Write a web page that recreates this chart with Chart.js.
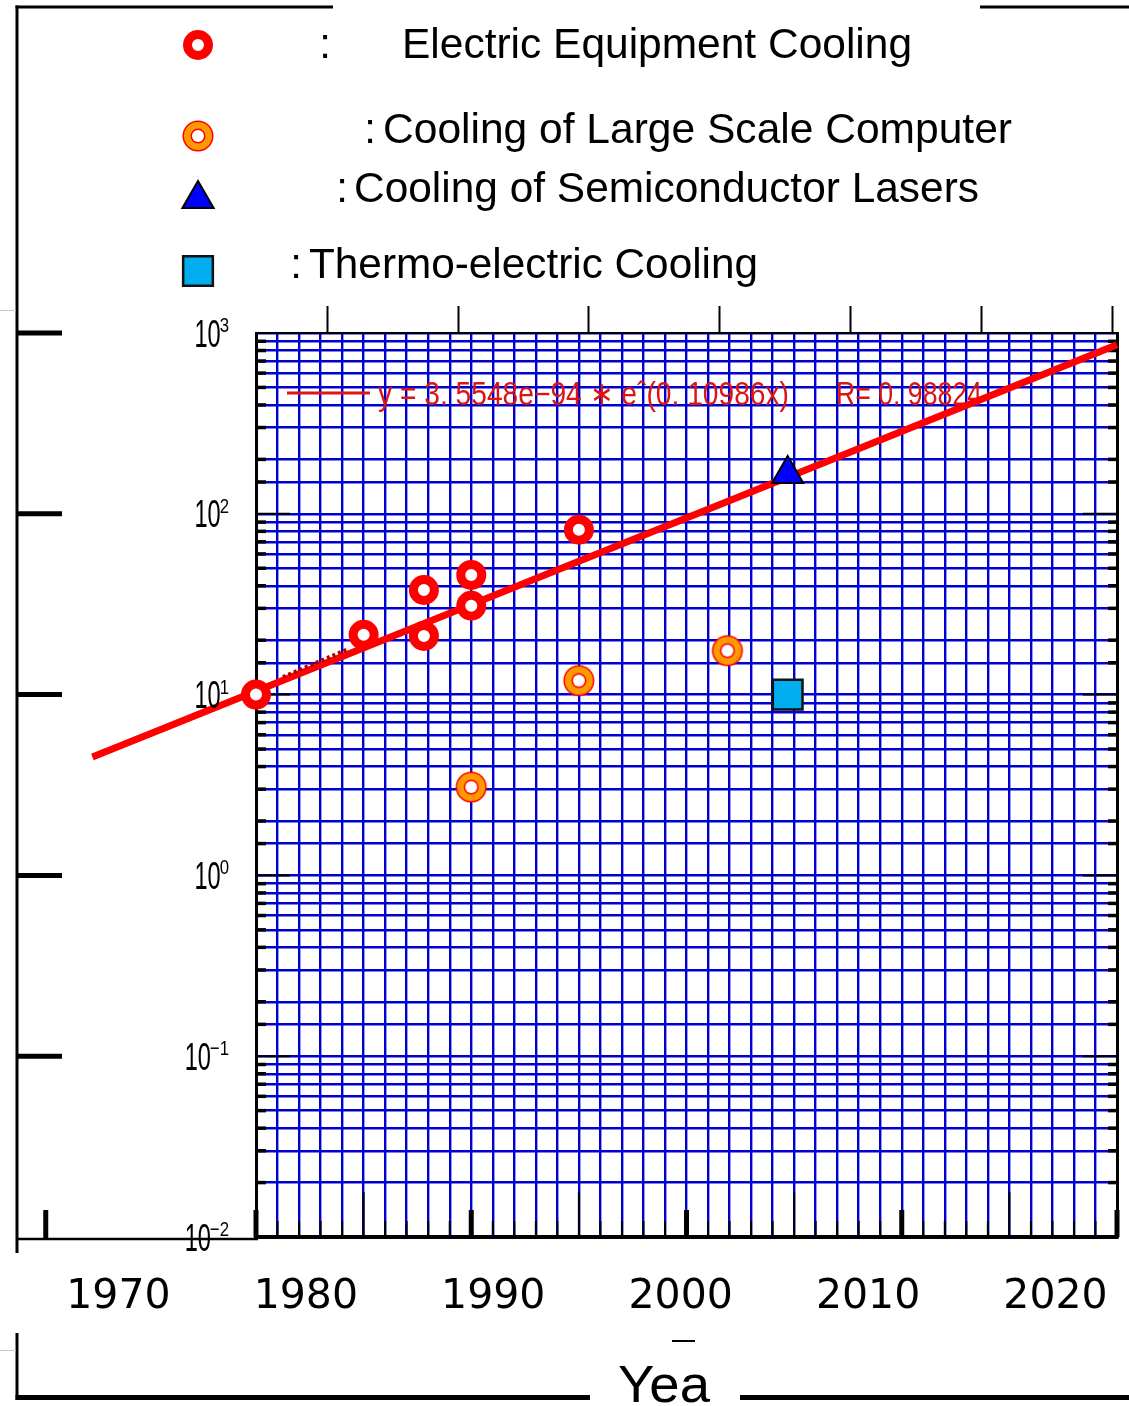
<!DOCTYPE html>
<html>
<head>
<meta charset="utf-8">
<title>Heat flux trend of cooling applications</title>
<script src="https://cdn.jsdelivr.net/npm/chart.js@4.4.1/dist/chart.umd.min.js"></script>
<style>
  html, body { margin: 0; padding: 0; background: #fff; }
  #wrap { width: 1129px; height: 1406px; }
</style>
</head>
<body>
<div id="wrap"><canvas id="trendChart" width="1129" height="1406"></canvas></div>
<script>
// values (x = year, y = log scale)
const electricYears = [1980, 1985, 1987.8, 1987.8, 1990, 1990, 1995];
const electricValues = [10, 21.4, 37.9, 21.1, 45.9, 31, 81.6];
const computerYears = [1990, 1995, 2001.9];
const computerValues = [3.08, 11.95, 17.5];
const laserYears = [2004.7];
const laserValues = [166];
const thermoYears = [2004.7];
const thermoValues = [10];
const fitYears = [1972.4, 2020];
const fitValues = [4.52, 861];
const traceYears = [1981.25, 1984.2];
const traceValues = [12.5, 17.7];
const yearLabels = [1970, 1980, 1990, 2000, 2010, 2020];
const decades = [-2, -1, 0, 1, 2, 3];
const legendNames = ['Electric Equipment Cooling', 'Cooling of Large Scale Computer',
                     'Cooling of Semiconductor Lasers', 'Thermo-electric Cooling'];
const fitLabel = 'y = 3. 5548e\u221294 \u2217 e\u02c6(0. 10986x)';
const fitR = 'R= 0. 98824';

const GRID_BLUE = '#0000d4';
const SANS = '"Liberation Sans", Arial, sans-serif';

function toPoints(xs, ys) {
    return xs.map((x, i) => ({ x: x, y: ys[i] }));
}

// orange ring with red outlines, used as a point style
function makeOrangeRing() {
    const c = document.createElement('canvas');
    c.width = 34; c.height = 34;
    const g = c.getContext('2d');
    const disc = (r, col) => { g.beginPath(); g.arc(17, 17, r, 0, Math.PI * 2); g.fillStyle = col; g.fill(); };
    disc(15.5, '#ff0000');
    disc(14, '#ff9900');
    disc(7.5, '#ff0000');
    disc(6, '#ffffff');
    return c;
}
const orangeRing = makeOrangeRing();

function line(ctx, x1, y1, x2, y2) {
    ctx.beginPath(); ctx.moveTo(x1, y1); ctx.lineTo(x2, y2); ctx.stroke();
}

// draw text squeezed/stretched to span x0..x1
function fittedText(ctx, str, x0, x1, baseline, font) {
    ctx.font = font;
    const w = ctx.measureText(str).width;
    ctx.save();
    ctx.translate(x0, baseline);
    ctx.scale((x1 - x0) / w, 1);
    ctx.textAlign = 'left';
    ctx.textBaseline = 'alphabetic';
    ctx.fillText(str, 0, 0);
    ctx.restore();
}

function marker(ctx, opts, x, y) {
    if (Chart.helpers && Chart.helpers.drawPoint) {
        Chart.helpers.drawPoint(ctx, Object.assign({ rotation: 0 }, opts), x, y);
    }
}

// keep axes from reserving room for overhanging labels
function fixBox(w, h) {
    return s => {
        if (w !== null) s.width = w;
        if (h !== null) s.height = h;
        s.paddingLeft = 0; s.paddingRight = 0; s.paddingTop = 0; s.paddingBottom = 0;
    };
}

const decorPlugin = {
    id: 'decor',
    beforeDatasetsDraw(chart) {
        const ctx = chart.ctx, xs = chart.scales.x, ys = chart.scales.y, area = chart.chartArea;
        ctx.save();
        ctx.strokeStyle = '#000';
        // inner ticks, left and right
        ys.ticks.forEach(t => {
            const py = ys.getPixelForValue(t.value);
            const lg = Math.log10(t.value);
            const major = Math.abs(lg - Math.round(lg)) < 1e-6;
            ctx.lineWidth = major ? 2 : 3.5;
            line(ctx, area.left, py, area.left + (major ? 34 : 10), py);
            line(ctx, area.right, py, area.right - (major ? 34 : 9), py);
        });
        // inner ticks, bottom
        xs.ticks.forEach(t => {
            const px = xs.getPixelForValue(t.value);
            const yr = Math.round(t.value);
            let len = 16, w = 2;
            if (yr % 10 === 0) { len = 27; w = 5; }
            else if (yr % 5 === 0) { len = 45; w = 2; }
            ctx.lineWidth = w;
            line(ctx, px, area.bottom, px, area.bottom - len);
        });
        // fit equation
        ctx.strokeStyle = '#e01515';
        ctx.lineWidth = 3;
        line(ctx, 287, 393, 370, 393);
        ctx.fillStyle = '#dd1414';
        fittedText(ctx, fitLabel, 378, 789, 405, '33px ' + SANS);
        fittedText(ctx, fitR, 836, 982, 405, '33px ' + SANS);
        ctx.restore();
    },
    afterDraw(chart) {
        const ctx = chart.ctx, xs = chart.scales.x, ys = chart.scales.y;
        ctx.save();

        // y tick labels 10^n
        ctx.fillStyle = '#000';
        decades.forEach(n => {
            const py = ys.getPixelForValue(Math.pow(10, n));
            const ex = n < 0 ? '\u2212' + (-n) : String(n);
            ctx.font = '21px ' + SANS;
            const exW = ctx.measureText(ex).width * 0.8;
            ctx.font = '38px ' + SANS;
            const baseW = ctx.measureText('10').width * 0.62;
            const exX = 229 - exW;
            const baseX = exX - baseW + 1;
            ctx.save(); ctx.translate(baseX, py + 13.5); ctx.scale(0.62, 1);
            ctx.font = '38px ' + SANS; ctx.fillText('10', 0, 0); ctx.restore();
            ctx.save(); ctx.translate(exX, py - 1); ctx.scale(0.8, 1);
            ctx.font = '21px ' + SANS; ctx.fillText(ex, 0, 0); ctx.restore();
        });

        // legend block
        const rows = [
            { y: 45, text: 58, colon: 325, from: 402, to: 912 },
            { y: 136, text: 143, colon: 370, from: 383, to: 1012 },
            { y: 199, text: 202, colon: 342, from: 354, to: 979 },
            { y: 271, text: 278, colon: 296, from: 309, to: 758 }
        ];
        ctx.fillStyle = '#fff'; ctx.strokeStyle = '#ff0000'; ctx.lineWidth = 9;
        marker(ctx, { pointStyle: 'circle', radius: 10.5, borderWidth: 9 }, 198, rows[0].y);
        marker(ctx, { pointStyle: orangeRing, radius: 15, borderWidth: 0 }, 198, rows[1].y);
        ctx.fillStyle = '#0000ff'; ctx.strokeStyle = '#000'; ctx.lineWidth = 2;
        marker(ctx, { pointStyle: 'triangle', radius: 18, borderWidth: 2 }, 198, rows[2].y);
        ctx.fillStyle = '#00aeef'; ctx.strokeStyle = '#111'; ctx.lineWidth = 2.5;
        marker(ctx, { pointStyle: 'rect', radius: 21, borderWidth: 2.5 }, 198, rows[3].y);

        ctx.fillStyle = '#000';
        rows.forEach((r, i) => {
            ctx.font = '42px ' + SANS;
            ctx.textAlign = 'center';
            ctx.fillText(':', r.colon, r.text);
            fittedText(ctx, legendNames[i], r.from, r.to, r.text, '42px ' + SANS);
        });

        // outer frame pieces
        ctx.strokeStyle = '#000';
        ctx.lineWidth = 3;
        line(ctx, 17, 5.5, 17, 1253);
        line(ctx, 15.5, 7, 333, 7);
        line(ctx, 980, 7, 1129, 7);
        ctx.lineWidth = 5;
        decades.filter(n => n >= -1).forEach(n => {
            const py = ys.getPixelForValue(Math.pow(10, n));
            line(ctx, 17, py, 62, py);
        });
        ctx.lineWidth = 2.5;
        line(ctx, 17, 1239, 258, 1239);
        ctx.lineWidth = 5;
        const p70 = xs.getPixelForValue(1970);
        line(ctx, p70 + 5, 1210, p70 + 5, 1239);
        ctx.lineWidth = 3;
        line(ctx, 17, 1333, 17, 1400);
        ctx.lineWidth = 5;
        line(ctx, 15.5, 1397.5, 590, 1397.5);
        line(ctx, 740, 1397.5, 1129, 1397.5);
        ctx.lineWidth = 2;
        line(ctx, 672, 1341, 695, 1341);
        ctx.strokeStyle = '#c8c8c8'; ctx.lineWidth = 1;
        line(ctx, 0, 310.5, 16, 310.5);
        line(ctx, 0, 1350.5, 16, 1350.5);

        // axis title (cut off in the source)
        ctx.fillStyle = '#000';
        fittedText(ctx, 'Yea', 618, 710, 1402, '52px ' + SANS);
        ctx.restore();
    }
};

const canvas = document.getElementById('trendChart');
new Chart(canvas.getContext('2d'), {
    type: 'scatter',
    data: {
        datasets: [
            {
                label: legendNames[0],
                data: toPoints(electricYears, electricValues),
                pointStyle: 'circle',
                pointRadius: 10.5,
                pointBorderWidth: 9,
                pointBorderColor: '#ff0000',
                pointBackgroundColor: '#ffffff',
                clip: false,
                order: 1
            },
            {
                label: legendNames[1],
                data: toPoints(computerYears, computerValues),
                pointStyle: orangeRing,
                pointRadius: 15,
                clip: false,
                order: 1
            },
            {
                label: legendNames[2],
                data: toPoints(laserYears, laserValues),
                pointStyle: 'triangle',
                pointRadius: 18,
                pointBorderWidth: 2,
                pointBorderColor: '#000000',
                pointBackgroundColor: '#0000ff',
                clip: false,
                order: 1
            },
            {
                label: legendNames[3],
                data: toPoints(thermoYears, thermoValues),
                pointStyle: 'rect',
                pointRadius: 21,
                pointBorderWidth: 2.5,
                pointBorderColor: '#111111',
                pointBackgroundColor: '#00aeef',
                clip: false,
                order: 1
            },
            {
                label: 'trace',
                data: toPoints(traceYears, traceValues),
                showLine: true,
                borderColor: '#b30000',
                borderWidth: 4,
                borderDash: [3, 3],
                pointRadius: 0,
                order: 4
            },
            {
                label: 'fit',
                data: toPoints(fitYears, fitValues),
                showLine: true,
                borderColor: '#ff0000',
                borderWidth: 7,
                pointRadius: 0,
                clip: false,
                order: 5
            }
        ]
    },
    options: {
        responsive: false,
        animation: false,
        events: [],
        layout: { padding: 0, autoPadding: false },
        plugins: {
            legend: { display: false },
            tooltip: { enabled: false }
        },
        scales: {
            x: {
                type: 'linear',
                position: 'bottom',
                weight: 0,
                min: 1980,
                max: 2020,
                afterFit: fixBox(null, 0),
                ticks: { display: false, stepSize: 1, autoSkip: false },
                grid: { color: GRID_BLUE, lineWidth: 2.4, drawTicks: false },
                border: { display: true, color: '#000', width: 4 }
            },
            xLabels: {
                type: 'linear',
                position: 'bottom',
                weight: 1,
                min: 1977.34,
                max: 2023.28,
                afterFit: fixBox(null, 169),
                afterBuildTicks: s => { s.ticks = yearLabels.map(v => ({ value: v })); },
                ticks: {
                    autoSkip: false,
                    maxRotation: 0,
                    padding: 36,
                    color: '#000',
                    font: { family: '"DejaVu Sans", sans-serif', size: 41 },
                    callback: v => String(v)
                },
                grid: { display: false, drawTicks: false },
                border: { display: false }
            },
            xTop: {
                type: 'linear',
                position: 'top',
                min: -0.545,
                max: 6.037,
                afterFit: fixBox(null, 333),
                ticks: { display: false, stepSize: 1, includeBounds: false },
                grid: { drawOnChartArea: false, drawTicks: true, tickLength: 27, tickWidth: 2, tickColor: '#000' },
                border: { display: true, color: '#000', width: 2 }
            },
            y: {
                type: 'logarithmic',
                position: 'left',
                min: 0.01,
                max: 1000,
                afterFit: fixBox(256, null),
                ticks: { display: false, autoSkip: false },
                grid: { color: GRID_BLUE, lineWidth: 2.4, drawTicks: false },
                border: { display: true, color: '#000', width: 3 }
            },
            yRight: {
                type: 'linear',
                position: 'right',
                afterFit: fixBox(12, null),
                ticks: { display: false },
                grid: { display: false, drawTicks: false },
                border: { display: true, color: '#000', width: 3 }
            }
        }
    },
    plugins: [decorPlugin]
});
</script>
</body>
</html>
